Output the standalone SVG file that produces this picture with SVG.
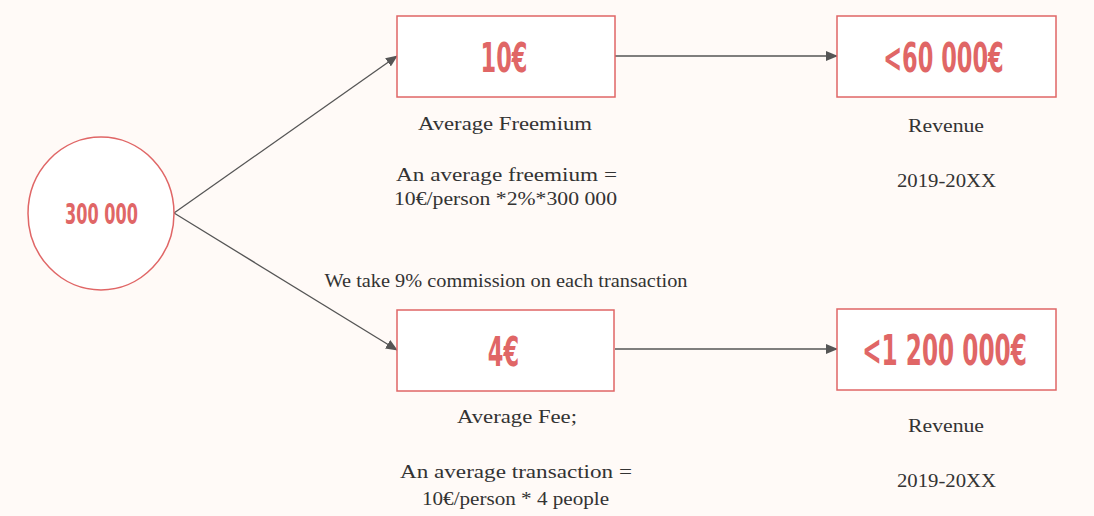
<svg xmlns="http://www.w3.org/2000/svg" width="1094" height="516" viewBox="0 0 1094 516">
<style>
.node{fill:#ffffff;stroke:#e06666;stroke-width:1.5}
.big{font-family:"DejaVu Sans Condensed","DejaVu Sans",sans-serif;font-weight:bold;fill:#e06666;text-anchor:middle}
.lbl{font-family:"Liberation Serif",serif;font-size:19px;fill:#333333;text-anchor:middle}
.edge{stroke:#555555;stroke-width:1.3;fill:none}
</style>
<defs>
<marker id="ah" markerWidth="12" markerHeight="10" refX="11" refY="5" orient="auto" markerUnits="userSpaceOnUse">
<path d="M0,0 L12,5 L0,10 Z" fill="#555555"/>
</marker>
</defs>
<rect width="1094" height="516" fill="#fffaf7"/>
<g id="connectors">
<line class="edge" x1="174" y1="213" x2="397" y2="56" marker-end="url(#ah)"/>
<line class="edge" x1="174" y1="213" x2="397" y2="350" marker-end="url(#ah)"/>
<line class="edge" x1="615" y1="56" x2="837" y2="56" marker-end="url(#ah)"/>
<line class="edge" x1="615" y1="349" x2="837" y2="349" marker-end="url(#ah)"/>
<text class="lbl" x="506" y="287" textLength="363" lengthAdjust="spacingAndGlyphs">We take 9% commission on each transaction</text>
</g>
<g id="start">
<ellipse class="node" cx="101" cy="213.5" rx="73" ry="76.5"/>
<text class="big" transform="translate(101.5,224) scale(0.64,1)" font-size="28">300 000</text>
</g>
<g id="freemium">
<rect class="node" x="397" y="16" width="218" height="81"/>
<text class="big" transform="translate(504,72) scale(0.61,1)" font-size="41">10€</text>
<text class="lbl" x="505" y="130" textLength="174" lengthAdjust="spacingAndGlyphs">Average Freemium</text>
<text class="lbl" x="506.5" y="181" textLength="221" lengthAdjust="spacingAndGlyphs">An average freemium =</text>
<text class="lbl" x="505.5" y="205" textLength="223" lengthAdjust="spacingAndGlyphs">10€/person *2%*300 000</text>
</g>
<g id="revenue1">
<rect class="node" x="837" y="16" width="219" height="81"/>
<text class="big" transform="translate(943.5,72) scale(0.61,1)" font-size="41">&lt;60 000€</text>
<text class="lbl" x="946" y="132" textLength="76" lengthAdjust="spacingAndGlyphs">Revenue</text>
<text class="lbl" x="946.5" y="187" textLength="99" lengthAdjust="spacingAndGlyphs">2019-20XX</text>
</g>
<g id="fee">
<rect class="node" x="397" y="310" width="217" height="81"/>
<text class="big" transform="translate(503.5,366) scale(0.61,1)" font-size="41">4€</text>
<text class="lbl" x="517" y="423" textLength="120" lengthAdjust="spacingAndGlyphs">Average Fee;</text>
<text class="lbl" x="516" y="478" textLength="232" lengthAdjust="spacingAndGlyphs">An average transaction =</text>
<text class="lbl" x="515.5" y="505" textLength="187" lengthAdjust="spacingAndGlyphs">10€/person * 4 people</text>
</g>
<g id="revenue2">
<rect class="node" x="837" y="309" width="219" height="81"/>
<text class="big" transform="translate(944.5,365) scale(0.6,1)" font-size="43">&lt;1 200 000€</text>
<text class="lbl" x="946" y="432" textLength="76" lengthAdjust="spacingAndGlyphs">Revenue</text>
<text class="lbl" x="946.5" y="487" textLength="99" lengthAdjust="spacingAndGlyphs">2019-20XX</text>
</g>
</svg>
